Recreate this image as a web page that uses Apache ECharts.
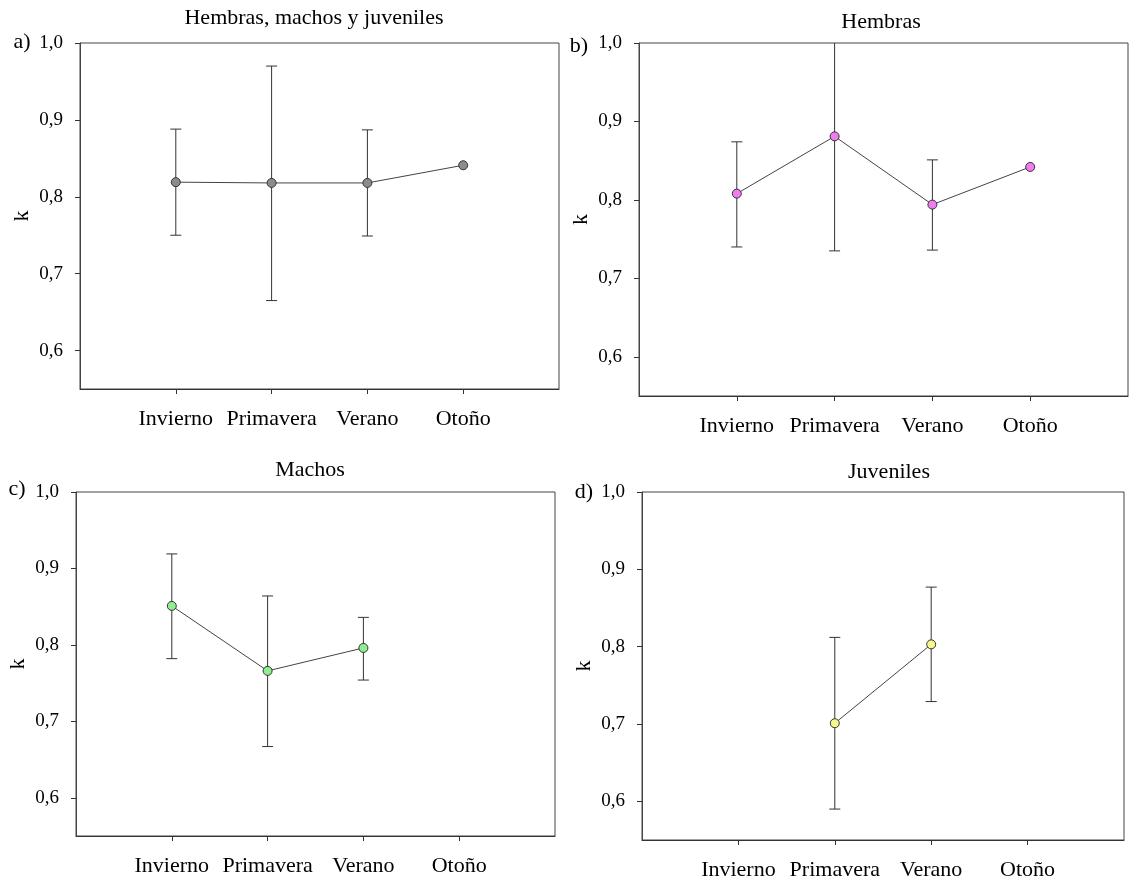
<!DOCTYPE html>
<html>
<head>
<meta charset="utf-8">
<script src="https://cdn.jsdelivr.net/npm/echarts@6/dist/echarts.min.js"></script>
<style>
  html, body { margin: 0; padding: 0; background: #fff; }
  #chart { width: 1131px; height: 881px; }
</style>
</head>
<body>
<div id="chart"></div>
<script>
// Condition factor k by season, mean with error bars
const seasons = ['Invierno', 'Primavera', 'Verano', 'Otoño'];
const yTicks = [0.6, 0.7, 0.8, 0.9, 1.0];

// a) Hembras, machos y juveniles
const allMean = [0.819, 0.818, 0.818, 0.841];
const allLow  = [0.750, 0.665, 0.749, null];
const allHigh = [0.888, 0.970, 0.887, null];

// b) Hembras
const femMean = [0.808, 0.881, 0.794, 0.842];
const femLow  = [0.740, 0.735, 0.736, null];
const femHigh = [0.874, 1.027, 0.851, null];

// c) Machos
const maleMean = [0.851, 0.766, 0.796, null];
const maleLow  = [0.782, 0.667, 0.754, null];
const maleHigh = [0.919, 0.864, 0.836, null];

// d) Juveniles
const juvMean = [null, 0.701, 0.803, null];
const juvLow  = [null, 0.590, 0.729, null];
const juvHigh = [null, 0.812, 0.877, null];

const FONT = '"Liberation Serif", "Times New Roman", serif';

const panels = [
  { title: 'Hembras, machos y juveniles', tag: 'a)', mean: allMean, low: allLow, high: allHigh,
    color: '#8c8c8c', grid: { left: 80, top: 43, width: 479, height: 346 },
    titlePos: [314, 18], tagPos: [22, 42] },
  { title: 'Hembras', tag: 'b)', mean: femMean, low: femLow, high: femHigh,
    color: '#f07cf0', grid: { left: 639, top: 43, width: 489, height: 353 },
    titlePos: [881, 22], tagPos: [579, 46] },
  { title: 'Machos', tag: 'c)', mean: maleMean, low: maleLow, high: maleHigh,
    color: '#90ee90', grid: { left: 76, top: 492, width: 479, height: 344 },
    titlePos: [310, 470], tagPos: [17, 489] },
  { title: 'Juveniles', tag: 'd)', mean: juvMean, low: juvLow, high: juvHigh,
    color: '#f7f78c', grid: { left: 642, top: 492, width: 482, height: 348 },
    titlePos: [889, 472], tagPos: [584, 492] }
];

const seasonX = seasons.map((s, i) => i + 1);

function errorBarItem(params, api) {
  const x = api.value(0);
  const lo = api.coord([x, api.value(1)]);
  const hi = api.coord([x, api.value(2)]);
  const half = 5.5;
  const st = { stroke: '#333', lineWidth: 1 };
  return {
    type: 'group',
    children: [
      { type: 'line', shape: { x1: lo[0], y1: lo[1], x2: hi[0], y2: hi[1] }, style: st },
      { type: 'line', shape: { x1: hi[0] - half, y1: hi[1], x2: hi[0] + half, y2: hi[1] }, style: st },
      { type: 'line', shape: { x1: lo[0] - half, y1: lo[1], x2: lo[0] + half, y2: lo[1] }, style: st }
    ]
  };
}

const grids = [], xAxes = [], yAxes = [], series = [], graphics = [];

panels.forEach((p, k) => {
  grids.push(Object.assign({ show: true, borderColor: '#444', borderWidth: 1 }, p.grid));

  xAxes.push({
    gridIndex: k, type: 'value', min: 0, max: 5,
    axisLine: { show: true, lineStyle: { color: '#333', width: 1 } },
    axisTick: { show: true, customValues: seasonX, length: 5, lineStyle: { color: '#333' } },
    axisLabel: {
      customValues: seasonX, formatter: v => seasons[Math.round(v) - 1] || '',
      margin: 19, fontFamily: FONT, fontSize: 22, color: '#000'
    },
    splitLine: { show: false }
  });

  yAxes.push({
    gridIndex: k, type: 'value', min: 0.55, max: 1.0,
    axisLine: { show: true, lineStyle: { color: '#444', width: 1 } },
    axisTick: { show: true, customValues: yTicks, length: 5, lineStyle: { color: '#333' } },
    axisLabel: {
      customValues: yTicks, formatter: v => v.toFixed(1).replace('.', ','),
      margin: 17, fontFamily: FONT, fontSize: 19, color: '#000'
    },
    splitLine: { show: false },
    name: 'k', nameLocation: 'middle', nameRotate: 90, nameGap: 47,
    nameTextStyle: { fontFamily: FONT, fontSize: 22, color: '#000' }
  });

  const bars = [];
  p.mean.forEach((m, i) => {
    if (p.low[i] != null && p.high[i] != null) bars.push([seasonX[i], p.low[i], p.high[i]]);
  });
  series.push({
    type: 'custom', xAxisIndex: k, yAxisIndex: k, clip: true,
    renderItem: errorBarItem, data: bars, z: 2, silent: true
  });

  const pts = [];
  p.mean.forEach((m, i) => { if (m != null) pts.push([seasonX[i], m]); });
  series.push({
    type: 'line', xAxisIndex: k, yAxisIndex: k, data: pts, z: 3,
    symbol: 'circle', symbolSize: 9, showSymbol: true,
    lineStyle: { color: '#444', width: 1 },
    itemStyle: { color: p.color, borderColor: '#333', borderWidth: 1 },
    animation: false, silent: true
  });

  graphics.push({
    type: 'text', x: p.titlePos[0], y: p.titlePos[1],
    style: { text: p.title, fontFamily: FONT, fontSize: 22, fill: '#000', align: 'center', verticalAlign: 'middle' }
  });
  graphics.push({
    type: 'text', x: p.tagPos[0], y: p.tagPos[1],
    style: { text: p.tag, fontFamily: FONT, fontSize: 22, fill: '#000', align: 'center', verticalAlign: 'middle' }
  });
});

const chart = echarts.init(document.getElementById('chart'), null, { renderer: 'canvas' });
chart.setOption({
  backgroundColor: '#fff',
  animation: false,
  grid: grids,
  xAxis: xAxes,
  yAxis: yAxes,
  series: series,
  graphic: graphics
});
</script>
</body>
</html>
